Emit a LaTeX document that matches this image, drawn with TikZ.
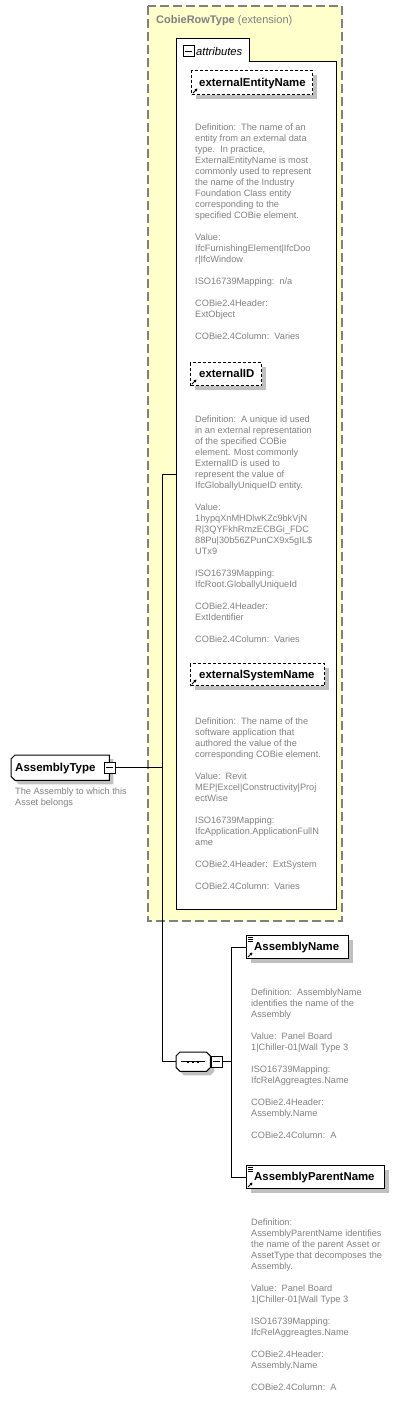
\documentclass[tikz,border=0pt]{standalone}
\usepackage{fontspec}
\setmainfont{Liberation Sans}
\usetikzlibrary{shadows,arrows.meta}
\definecolor{yel}{RGB}{255,255,204}
\definecolor{ygray}{RGB}{128,128,128}
\definecolor{shd}{RGB}{192,192,192}
\definecolor{desccol}{RGB}{128,128,128}
\begin{document}
\begin{tikzpicture}[x=1pt,y=-1pt,
  lbl/.style={font=\fontsize{11.4}{13}\selectfont\bfseries, anchor=base west, inner sep=0},
  desc/.style={font=\fontsize{9.2}{11}\selectfont, text=desccol, align=left, anchor=north west, inner sep=0,
     execute at begin node={\rule{0pt}{8pt}}},
  shadowed/.style={drop shadow={fill=shd, opacity=1, shadow xshift=4pt, shadow yshift=-4pt}},
  elbox/.style={draw=black, fill=white, line width=1pt, anchor=north west, inner sep=0, shadowed},
  attbox/.style={elbox, dash pattern=on 3pt off 2pt},
  minusbox/.style={draw=black, fill=white, line width=1pt, minimum size=11pt, inner sep=0},
  conn/.style={draw=black, line width=1pt},
  refarrow/.style={-{Triangle[length=2.6pt,width=2.8pt]}, line width=0.9pt}
]
\useasboundingbox (0,0) rectangle (412,1409);

% extension box
\draw[fill=yel, draw=ygray, line width=1.5pt, dash pattern=on 9pt off 4pt] (148,6) rectangle (342,921);
\node[font=\fontsize{11}{13}\selectfont, text=ygray, anchor=base west, inner sep=0] (ext) at (156,23.5)
  {\textbf{CobieRowType} (extension)};

% attributes group
\node[anchor=north west, minimum width=160pt, minimum height=848pt, inner sep=0] (attr) at (176,61) {};
\draw[fill=white, line width=1pt] (attr.south west) -- ([shift={(0,-23)}]attr.north west) -- ([shift={(73,-23)}]attr.north west)
  -- ([shift={(73,0)}]attr.north west) -- (attr.north east) -- (attr.south east) -- cycle;
\node[minusbox] (attrm) at (188.5,51) {};
\draw[line width=1pt] ([xshift=2.5pt]attrm.west) -- ([xshift=-2.5pt]attrm.east);
\node[font=\fontsize{11.2}{13}\selectfont\itshape, anchor=base west, inner sep=0] (attrlbl) at (196,55) {attributes};

% externalEntityName
\node[attbox, minimum width=121pt, minimum height=24pt] (een) at (191,70) {};
\node[lbl] (eenl) at (199,86) {externalEntityName};
\draw[refarrow] ([shift={(2,-2)}]een.south west) -- ([shift={(6.5,-6.5)}]een.south west);
\node[desc] (eend) at (195,123.3) {Definition:\ \ The name of an\\
entity from an external data\\
type.\ \ In practice,\\
ExternalEntityName is most\\
commonly used to represent\\
the name of the Industry\\
Foundation Class entity\\
corresponding to the\\
specified COBie element.\\[11pt]
Value:\\
IfcFurnishingElement|IfcDoo\\
r|IfcWindow\\[11pt]
ISO16739Mapping:\ \ n/a\\[11pt]
COBie2.4Header:\\
ExtObject\\[11pt]
COBie2.4Column:\ \ Varies};

% externalID
\node[attbox, minimum width=71pt, minimum height=23pt] (eid) at (190,362) {};
\node[lbl] (eidl) at (199,377.5) {externalID};
\draw[refarrow] ([shift={(2,-2)}]eid.south west) -- ([shift={(6.5,-6.5)}]eid.south west);
\node[desc] (eidd) at (195,415.3) {Definition:\ \ A unique id used\\
in an external representation\\
of the specified COBie\\
element. Most commonly\\
ExternalID is used to\\
represent the value of\\
IfcGloballyUniqueID entity.\\[11pt]
Value:\\
1hypqXnMHDlwKZc9bkVjN\\
R|3QYFkhRmzECBGi\_FDC\\
88Pu|30b56ZPunCX9x5gIL\$\\
UTx9\\[11pt]
ISO16739Mapping:\\
IfcRoot.GloballyUniqueId\\[11pt]
COBie2.4Header:\\
ExtIdentifier\\[11pt]
COBie2.4Column:\ \ Varies};

% externalSystemName
\node[attbox, minimum width=134pt, minimum height=22pt] (esn) at (190,663) {};
\node[lbl] (esnl) at (199,678.5) {externalSystemName};
\draw[refarrow] ([shift={(2,-2)}]esn.south west) -- ([shift={(6.5,-6.5)}]esn.south west);
\node[desc] (esnd) at (195,717.3) {Definition:\ \ The name of the\\
software application that\\
authored the value of the\\
corresponding COBie element.\\[11pt]
Value:\ \ Revit\\
MEP|Excel|Constructivity|Proj\\
ectWise\\[11pt]
ISO16739Mapping:\\
IfcApplication.ApplicationFullN\\
ame\\[11pt]
COBie2.4Header:\ \ ExtSystem\\[11pt]
COBie2.4Column:\ \ Varies};

% AssemblyType
\node[anchor=north west, minimum width=98pt, minimum height=25pt, inner sep=0] (at) at (11,755) {};
\draw[fill=white, line width=1pt, shadowed] ([shift={(4,0)}]at.north west) -- (at.north east) -- (at.south east)
  -- ([shift={(4,0)}]at.south west) -- ([shift={(0,-4)}]at.south west) -- ([shift={(0,4)}]at.north west) -- cycle;
\node[lbl, font=\fontsize{11.5}{13}\selectfont\bfseries] (atl) at (15,771.5) {AssemblyType};
\node[minusbox] (atm) at (109.5,767.5) {};
\draw[line width=1pt] ([xshift=2.5pt]atm.west) -- ([xshift=-2.5pt]atm.east);
\node[desc] (atd) at (15,787.3) {The Assembly to which this\\
Asset belongs};

% sequence
\node[anchor=north west, minimum width=34pt, minimum height=19pt, inner sep=0] (seq) at (176,1052) {};
\draw[fill=white, line width=1pt, shadowed] ([shift={(4,0)}]seq.north west) -- ([shift={(-4,0)}]seq.north east)
  -- ([shift={(0,4)}]seq.north east) -- ([shift={(0,-4)}]seq.south east) -- ([shift={(-4,0)}]seq.south east)
  -- ([shift={(4,0)}]seq.south west) -- ([shift={(0,-4)}]seq.south west) -- ([shift={(0,4)}]seq.north west) -- cycle;
\draw[line width=1pt] ([shift={(5,0)}]seq.west) -- ([shift={(-5,0)}]seq.east);
\foreach \dx in {-5,0,5} {\fill ([shift={(\dx-1.2,-1.2)}]seq.center) rectangle ([shift={(\dx+1.2,1.2)}]seq.center);}
\node[minusbox] (seqm) at (216.5,1061.5) {};
\draw[line width=1pt] ([xshift=2.5pt]seqm.west) -- ([xshift=-2.5pt]seqm.east);

% AssemblyName
\node[elbox, minimum width=102pt, minimum height=23pt] (an) at (246,935) {};
\node[lbl] (anl) at (254,950.5) {AssemblyName};
\draw[refarrow] ([shift={(2,-2)}]an.south west) -- ([shift={(6.5,-6.5)}]an.south west);
\foreach \dy in {2,4,6} {\draw[line width=0.6pt] ([shift={(1.5,\dy)}]an.north west) -- ([shift={(6.5,\dy)}]an.north west);}
\node[desc] (and) at (251,988.3) {Definition:\ \ AssemblyName\\
identifies the name of the\\
Assembly\\[11pt]
Value:\ \ Panel Board\\
1|Chiller-01|Wall Type 3\\[11pt]
ISO16739Mapping:\\
IfcRelAggreagtes.Name\\[11pt]
COBie2.4Header:\\
Assembly.Name\\[11pt]
COBie2.4Column:\ \ A};

% AssemblyParentName
\node[elbox, minimum width=138pt, minimum height=23pt] (apn) at (246,1165) {};
\node[lbl] (apnl) at (254,1180.5) {AssemblyParentName};
\draw[refarrow] ([shift={(2,-2)}]apn.south west) -- ([shift={(6.5,-6.5)}]apn.south west);
\foreach \dy in {2,4,6} {\draw[line width=0.6pt] ([shift={(1.5,\dy)}]apn.north west) -- ([shift={(6.5,\dy)}]apn.north west);}
\node[desc] (apnd) at (251,1218.3) {Definition:\\
AssemblyParentName identifies\\
the name of the parent Asset or\\
AssetType that decomposes the\\
Assembly.\\[11pt]
Value:\ \ Panel Board\\
1|Chiller-01|Wall Type 3\\[11pt]
ISO16739Mapping:\\
IfcRelAggreagtes.Name\\[11pt]
COBie2.4Header:\\
Assembly.Name\\[11pt]
COBie2.4Column:\ \ A};

% connectors
\coordinate (jtop) at (162,474);
\coordinate (jk) at (231,1061.5);
\draw[conn] (atm.east) -- (atm.east -| jtop);
\draw[conn] (attr.west |- jtop) -- (jtop) -- (jtop |- seq.west) -- (seq.west);
\draw[conn] (seqm.east) -- (jk);
\draw[conn] (an.west) -- (an.west -| jk) -- (apn.west -| jk) -- (apn.west);
\end{tikzpicture}
\end{document}
